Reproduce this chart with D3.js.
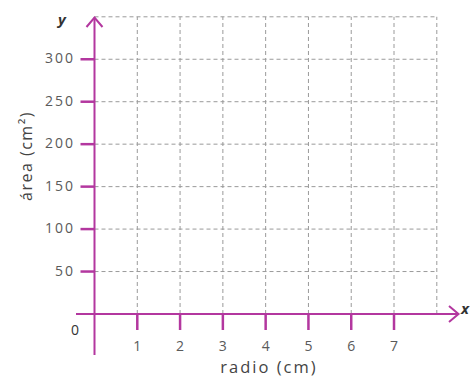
<!DOCTYPE html>
<html>
<head>
<meta charset="utf-8">
<script src="https://cdn.jsdelivr.net/npm/d3@7"></script>
<style>
  html, body { margin: 0; padding: 0; background: #fff; }
  svg { display: block; font-family: "Open Sans", "Noto Sans", sans-serif; }
</style>
</head>
<body>
<svg id="chart" width="470" height="378"></svg>
<script>
// Axis ticks and grid extents
const xTicks = [1, 2, 3, 4, 5, 6, 7];
const yTicks = [50, 100, 150, 200, 250, 300];
const xGrid = [1, 2, 3, 4, 5, 6, 7, 8];
const yGrid = [50, 100, 150, 200, 250, 300, 350];
const xMax = 8;
const yMax = 350;

const axisColor = "#b3379f";
const gridColor = "#9a9a9a";
const labelColor = "#5a5a5a";

const svg = d3.select("#chart");

const x = d3.scaleLinear().domain([0, xMax]).range([94.5, 436.8]);
const y = d3.scaleLinear().domain([0, yMax]).range([314, 16.8]);

// dashed grid
const grid = svg.append("g").attr("stroke", gridColor).attr("stroke-width", 1)
  .attr("stroke-dasharray", "4,3").attr("fill", "none");
grid.selectAll("line.v").data(xGrid).join("line").attr("class", "v")
  .attr("x1", d => x(d)).attr("x2", d => x(d))
  .attr("y1", y(0)).attr("y2", y(yMax));
grid.selectAll("line.h").data(yGrid).join("line").attr("class", "h")
  .attr("x1", x(0)).attr("x2", x(xMax))
  .attr("y1", d => y(d)).attr("y2", d => y(d));

// main axes with arrowheads
const axes = svg.append("g").attr("stroke", axisColor).attr("fill", "none")
  .attr("stroke-width", 2).attr("stroke-linecap", "butt");
axes.append("line").attr("x1", 76).attr("x2", 458).attr("y1", y(0)).attr("y2", y(0));
axes.append("line").attr("x1", x(0)).attr("x2", x(0)).attr("y1", 355).attr("y2", 17.5);
axes.append("path").attr("stroke-linejoin", "miter")
  .attr("d", `M${449},${y(0) - 8} L${458.5},${y(0)} L${449},${y(0) + 8}`);
axes.append("path")
  .attr("d", `M${x(0) - 8},${27} L${x(0)},${17.5} L${x(0) + 8},${27}`);

// tick marks
axes.selectAll("line.xt").data(xTicks).join("line").attr("class", "xt")
  .attr("stroke-width", 2.5)
  .attr("x1", d => x(d)).attr("x2", d => x(d))
  .attr("y1", y(0)).attr("y2", y(0) + 16);
axes.selectAll("line.yt").data(yTicks).join("line").attr("class", "yt")
  .attr("stroke-width", 2.5)
  .attr("x1", x(0) - 14).attr("x2", x(0))
  .attr("y1", d => y(d)).attr("y2", d => y(d));

// tick labels
svg.append("g").attr("fill", labelColor).attr("font-size", 14).attr("text-anchor", "middle")
  .selectAll("text").data(xTicks).join("text")
  .attr("x", d => x(d)).attr("y", 351).text(d => d);
svg.append("g").attr("fill", labelColor).attr("font-size", 14).attr("text-anchor", "end")
  .attr("letter-spacing", 2)
  .selectAll("text").data(yTicks).join("text")
  .attr("x", 75).attr("y", d => y(d) + 4).text(d => d);
svg.append("text").attr("x", 79).attr("y", 335).attr("text-anchor", "end")
  .attr("fill", "#333").attr("font-size", 14).text("0");

// axis titles
svg.append("text").attr("x", 269).attr("y", 373).attr("text-anchor", "middle")
  .attr("fill", "#444").attr("font-size", 16.5).attr("letter-spacing", 2).text("radio (cm)");
svg.append("text").attr("transform", "translate(32,156) rotate(-90)")
  .attr("text-anchor", "middle").attr("fill", "#444").attr("font-size", 16)
  .attr("letter-spacing", 1.5).text("área (cm²)");
svg.append("text").attr("x", 62).attr("y", 25).attr("text-anchor", "middle")
  .attr("fill", "#333").attr("font-size", 15).attr("font-style", "italic").attr("font-weight", "bold").text("y");
svg.append("text").attr("x", 465).attr("y", 314).attr("text-anchor", "middle")
  .attr("fill", "#333").attr("font-size", 15).attr("font-style", "italic").attr("font-weight", "bold").text("x");
</script>
</body>
</html>
